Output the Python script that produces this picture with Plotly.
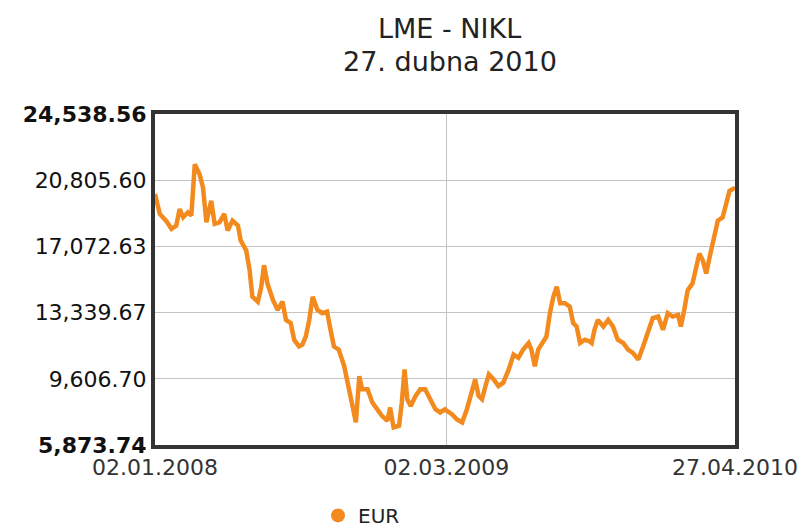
import pandas as pd
import plotly.graph_objects as go

# days since 02.01.2008 and EUR price
days = [0, 7, 16, 24, 31, 36, 41, 48, 53, 58, 65, 70, 75, 82, 87, 94, 101, 106, 113, 121,
        125, 133, 138, 142, 150, 155, 159, 164, 172, 179, 186, 191, 198, 203, 210,
        215, 220, 225, 230, 237, 244, 251, 256, 261, 268, 276, 281, 285, 293, 298, 302, 310,
        317, 324, 331, 339, 343, 348, 356, 360, 364, 368, 373, 380, 387, 394, 402, 409, 416, 423,
        426, 433, 440, 448, 455, 462, 467, 472, 477, 482, 487, 494, 501, 508, 516, 523, 530, 537,
        545, 549, 554, 559, 566, 571, 576, 581, 586, 591, 598, 605, 610, 615, 620, 627, 634,
        637, 641, 646, 654, 661, 668, 675, 683, 690, 697, 705, 712, 719, 726, 734, 741, 748,
        755, 763, 767, 772, 777, 784, 789, 794, 799, 804, 809, 816, 821, 828, 833, 838, 843, 846]
eur = [20022, 18902, 18527, 18063, 18248, 19182, 18712, 18992, 18807, 21701, 21141, 20391, 18432,
       19647, 18343, 18432, 18902, 17968, 18527, 18248,
       17408, 16848, 15729, 14234, 13954, 14794, 16009, 14984, 14050, 13490, 13954, 12930, 12746,
       11811, 11436,
       11531, 11996, 12930, 14234, 13490, 13305, 13395, 12371, 11436, 11251, 10317, 9388, 8638,
       7149, 9757, 9013, 9013,
       8268, 7893, 7518, 7238, 7988, 6869, 6958, 8268, 10132, 8453, 8078, 8638, 9013, 9013, 8453,
       7893, 7708, 7893,
       7798, 7613, 7333, 7149, 7893, 9013, 9572, 8638, 8453, 9197, 9852, 9572, 9197, 9388, 10132,
       10971, 10787, 11251,
       11626, 11251, 10317, 11251, 11626, 11996, 13305, 14234, 14794, 13865, 13865, 13675, 12746,
       12555, 11626, 11811, 11716,
       11626, 12371, 12930, 12555, 12930, 12555, 11811, 11626, 11251, 11067, 10692, 11436, 12185,
       13026, 13115, 12371, 13305,
       13115, 13210, 12555, 13490, 14610, 14984, 15729, 16664, 16289, 15544, 16473, 17593, 18527,
       18712, 19462, 20207, 20302, 20400]

start_date = "2008-01-02"
y_ticks = [5873.74, 9606.70, 13339.67, 17072.63, 20805.60, 24538.56]
y_labels = ["<b>5,873.74</b>", "9,606.70", "13,339.67", "17,072.63", "20,805.60", "<b>24,538.56</b>"]
x_ticks = ["2008-01-02", "2009-03-02", "2010-04-27"]
x_labels = ["02.01.2008", "02.03.2009", "27.04.2010"]
title_lines = ["LME - NIKL", "27. dubna 2010"]
series_name = "EUR"

dates = pd.to_datetime(start_date) + pd.to_timedelta(days, unit="D")

ORANGE = "#F28A1E"
fig = go.Figure()
fig.add_trace(go.Scatter(x=dates, y=eur, mode="lines", line=dict(color=ORANGE, width=4.5),
                         showlegend=False, hoverinfo="skip"))
fig.add_trace(go.Scatter(x=[None], y=[None], mode="markers", name=series_name,
                         marker=dict(color=ORANGE, size=14)))

fig.update_layout(
    width=810, height=527,
    margin=dict(l=155, r=69, t=114, b=82),
    paper_bgcolor="white", plot_bgcolor="white",
    font=dict(family="DejaVu Sans", color="#222"),
    showlegend=True,
    legend=dict(orientation="h", xref="container", yref="container", x=0.3926, y=0.022,
                xanchor="left", yanchor="middle", font=dict(size=20, color="#222"),
                itemwidth=30, bgcolor="rgba(0,0,0,0)"),
    xaxis=dict(type="date", range=[x_ticks[0], x_ticks[-1]], tickvals=x_ticks, ticktext=x_labels,
               showgrid=True, gridcolor="#c4c4c4", gridwidth=1, showline=True, linewidth=4,
               linecolor="#333", mirror=True, ticks="", tickfont=dict(size=22, color="#333"),
               zeroline=False, fixedrange=True),
    yaxis=dict(range=[y_ticks[0], y_ticks[-1]], tickvals=y_ticks, ticktext=y_labels,
               showgrid=True, gridcolor="#c4c4c4", gridwidth=1, showline=True, linewidth=4,
               linecolor="#333", mirror=True, ticks="", tickfont=dict(size=22, color="#111"),
               ticklabelstandoff=0, zeroline=False, fixedrange=True),
)
fig.add_annotation(text=title_lines[0], xref="paper", yref="paper", x=0.5085, y=1.2568,
                   showarrow=False, font=dict(size=27, color="#222"),
                   xanchor="center", yanchor="middle")
fig.add_annotation(text=title_lines[1], xref="paper", yref="paper", x=0.5085, y=1.160,
                   showarrow=False, font=dict(size=27, color="#222"),
                   xanchor="center", yanchor="middle")

fig.write_html("out.html")
